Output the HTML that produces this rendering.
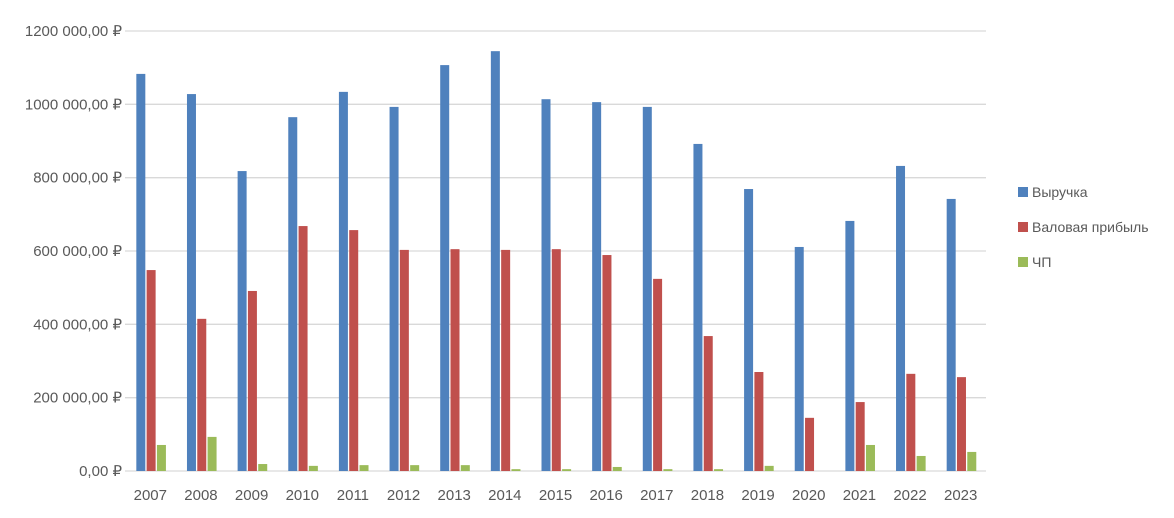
<!DOCTYPE html>
<html><head><meta charset="utf-8"><style>
body{margin:0;background:#fff;font-family:"Liberation Sans",sans-serif}
svg text{fill:#595959;font-family:"Liberation Sans",sans-serif}
</style></head><body>
<svg id="chart" width="1174" height="513">
<g id="grid"></g><g id="bars"></g><g id="xlabels"></g><g id="ylabels"></g>
<g id="legend">
<rect x="1018" y="187" width="10" height="10" fill="#4F81BD"/>
<text x="1032" y="197" font-size="14">Выручка</text>
<rect x="1018" y="222" width="10" height="10" fill="#C0504D"/>
<text x="1032" y="232" font-size="14">Валовая прибыль</text>
<rect x="1018" y="257" width="10" height="10" fill="#9BBB59"/>
<text x="1032" y="267" font-size="14">ЧП</text>
</g>
</svg>
<script>
const categories=["2007","2008","2009","2010","2011","2012","2013","2014","2015","2016","2017","2018","2019","2020","2021","2022","2023"];
const revenue=[1083,1028,818,965,1034,993,1107,1145,1014,1006,993,892,769,611,682,832,742];
const grossProfit=[548,415,491,668,657,603,605,603,605,589,524,368,270,145,188,265,256];
const netProfit=[71,93,19,14,16,16,16,5,5,11,5,5,14,0,71,41,52];
const yTicks=[0,200,400,600,800,1000,1200];
const yTickLabels=["0,00 ₽","200 000,00 ₽","400 000,00 ₽","600 000,00 ₽","800 000,00 ₽","1000 000,00 ₽","1200 000,00 ₽"];
const ns="http://www.w3.org/2000/svg";
const L=125,R=986,T=31,B=471,maxV=1200;
const y=v=>B-(v/maxV)*(B-T);
const step=(R-L)/categories.length;
const x=i=>L+step*i+step/2;
const bw=9;
function mk(tag,attrs,parent){const e=document.createElementNS(ns,tag);for(const k in attrs)e.setAttribute(k,attrs[k]);document.getElementById(parent).appendChild(e);return e;}
yTicks.forEach((t,i)=>{
 const l=mk("line",{x1:L,x2:R,y1:y(t),y2:y(t),stroke:"#D9D9D9","stroke-width":1.3},"grid");
 
 
 const tx=mk("text",{x:122,y:y(t)+5,"text-anchor":"end","font-size":"15"},"ylabels");
 tx.textContent=yTickLabels[i];
 
 
});
const series=[[revenue,"#4F81BD","revenue"],[grossProfit,"#C0504D","gross-profit"],[netProfit,"#9BBB59","net-profit"]];
categories.forEach((c,i)=>{
 series.forEach((s,j)=>{
  const v=s[0][i];
  const r=mk("rect",{x:x(i)-14+j*10.3,y:y(v),width:bw,height:B-y(v),fill:s[1]},"bars");
  
  
 });
 const tx=mk("text",{x:x(i),y:500,"text-anchor":"middle","font-size":"15"},"xlabels");
 tx.textContent=c;
 
 
});
</script>
</body></html>
